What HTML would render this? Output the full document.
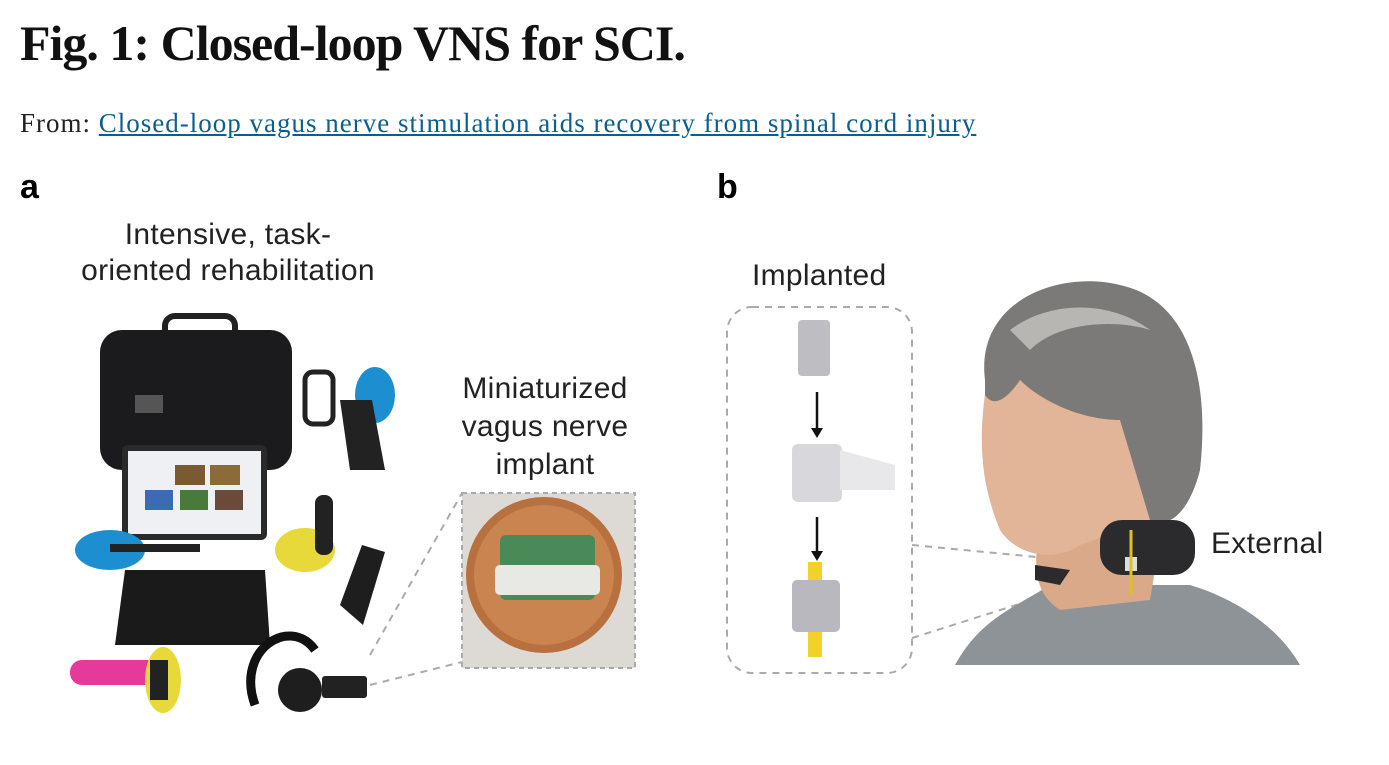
<!DOCTYPE html>
<html><head><meta charset="utf-8"><style>
body{margin:0;width:1389px;height:765px;background:#fff;position:relative;overflow:hidden;font-family:"Liberation Sans",sans-serif}
.t{position:absolute;white-space:nowrap}
.s{font-size:30px;letter-spacing:0.3px;color:#222}
</style></head><body>
<div class="t" style="left:20px;top:14px;font-family:'Liberation Serif',serif;font-weight:bold;font-size:50px;letter-spacing:-1px;color:#111">Fig. 1: Closed-loop VNS for SCI.</div>
<div class="t" style="left:20px;top:108px;font-family:'Liberation Serif',serif;font-size:27px;letter-spacing:1px;color:#222">From: <span style="color:#0b5f8f;text-decoration:underline">Closed-loop vagus nerve stimulation aids recovery from spinal cord injury</span></div>
<div class="t" style="left:20px;top:168px;font-weight:bold;font-size:34px">a</div>
<div class="t" style="left:717px;top:168px;font-weight:bold;font-size:34px">b</div>
<div class="t s" style="left:28px;top:217px;text-align:center;line-height:36px;width:400px">Intensive, task-<br>oriented rehabilitation</div>
<div class="t s" style="left:445px;top:370px;text-align:center;line-height:38px;width:200px">Miniaturized<br>vagus nerve<br>implant</div>
<div class="t s" style="left:752px;top:259px">Implanted</div>
<div class="t s" style="left:1211px;top:527px">External</div>
<svg width="1389" height="765" style="position:absolute;left:0;top:0">
<rect x="165" y="316" width="70" height="24" rx="10" fill="none" stroke="#222" stroke-width="6"/>
<rect x="100" y="330" width="192" height="140" rx="22" fill="#1b1b1d"/>
<rect x="135" y="395" width="28" height="18" fill="#555"/>
<rect x="122" y="445" width="145" height="95" rx="6" fill="#2a2a2a"/>
<rect x="128" y="451" width="133" height="83" fill="#eef0f4"/>
<rect x="175" y="465" width="30" height="20" fill="#7a5a30"/><rect x="210" y="465" width="30" height="20" fill="#8a6b3a"/>
<rect x="145" y="490" width="28" height="20" fill="#3b6bb0"/><rect x="180" y="490" width="28" height="20" fill="#4a7a3a"/><rect x="215" y="490" width="28" height="20" fill="#6a4a3a"/>
<path d="M125 570 L265 570 L270 645 L115 645 Z" fill="#1a1a1a"/>
<ellipse cx="110" cy="550" rx="35" ry="20" fill="#1d8fd0"/>
<rect x="110" y="544" width="90" height="8" fill="#222"/>
<ellipse cx="305" cy="550" rx="30" ry="22" fill="#e8d93a"/>
<rect x="315" y="495" width="18" height="60" rx="8" fill="#222"/>
<path d="M340 605 L362 545 L385 552 L363 625 Z" fill="#1e1e1e"/>
<rect x="305" y="372" width="28" height="52" rx="8" fill="none" stroke="#222" stroke-width="5"/>
<ellipse cx="375" cy="395" rx="20" ry="28" fill="#1d8fd0"/>
<path d="M340 400 L372 400 L385 470 L350 470 Z" fill="#222"/>
<rect x="70" y="660" width="90" height="25" rx="12" fill="#e53a9a"/>
<ellipse cx="163" cy="680" rx="18" ry="33" fill="#e8d93a"/>
<rect x="150" y="660" width="18" height="40" fill="#222"/>
<path d="M255 705 C235 650 290 615 315 650" fill="none" stroke="#111" stroke-width="9"/>
<circle cx="300" cy="690" r="22" fill="#1e1e1e"/>
<rect x="322" y="676" width="45" height="22" rx="3" fill="#222"/>
<path d="M370 685 L462 662 M370 655 L462 493" stroke="#aaa" stroke-width="2" stroke-dasharray="7,6" fill="none"/>
<rect x="462" y="493" width="173" height="175" fill="#ddd9d4" stroke="#aaa" stroke-width="2" stroke-dasharray="5,4"/>
<circle cx="544" cy="575" r="78" fill="#b8703f"/>
<circle cx="544" cy="575" r="70" fill="#c98450"/>
<rect x="500" y="535" width="95" height="65" rx="6" fill="#3c8b5a" opacity=".9"/>
<rect x="495" y="565" width="105" height="30" rx="5" fill="#e8e8e4"/>
<rect x="727" y="307" width="185" height="366" rx="25" fill="none" stroke="#aaa" stroke-width="2" stroke-dasharray="7,6"/>
<rect x="798" y="320" width="32" height="56" rx="4" fill="#bdbdc2"/>
<line x1="817" y1="392" x2="817" y2="430" stroke="#111" stroke-width="2.5"/><path d="M811 428 L817 438 L823 428Z" fill="#111"/>
<rect x="792" y="444" width="50" height="58" rx="6" fill="#d8d8dc"/>
<path d="M840 450 L895 465 L895 490 L840 490Z" fill="#e8e8ea"/>
<line x1="817" y1="517" x2="817" y2="553" stroke="#111" stroke-width="2.5"/><path d="M811 551 L817 561 L823 551Z" fill="#111"/>
<rect x="808" y="562" width="14" height="95" fill="#f2d22a"/>
<rect x="792" y="580" width="48" height="52" rx="5" fill="#b8b8be"/>
<path d="M912 545 L1120 565 M912 638 L1120 572" stroke="#aaa" stroke-width="2" stroke-dasharray="7,6" fill="none"/>
<path d="M955 665 C980 620 1010 610 1050 585 L1190 585 C1240 600 1280 630 1300 665 Z" fill="#8e9398"/>
<path d="M1040 520 C1035 560 1030 590 1060 610 L1150 600 L1160 540 Z" fill="#d9a98a"/>
<path d="M990 360 C980 420 975 470 1000 530 C1020 560 1060 560 1080 545 L1150 520 L1160 400 Z" fill="#e2b598"/>
<path d="M985 380 C975 300 1060 270 1120 285 C1190 300 1210 380 1200 470 C1190 510 1170 530 1150 520 L1120 420 C1080 420 1040 400 1020 380 C1010 395 995 410 985 395 Z" fill="#7c7a78"/>
<path d="M1010 330 C1050 300 1110 300 1150 330 C1120 320 1060 320 1030 350Z" fill="#b8b6b2"/>
<rect x="1100" y="520" width="95" height="55" rx="22" fill="#2b2b2d"/>
<path d="M1035 565 L1070 570 L1060 585 L1035 580Z" fill="#2b2b2d"/>
<rect x="1125" y="557" width="12" height="14" fill="#ddd"/>
<line x1="1131" y1="530" x2="1131" y2="595" stroke="#e0c020" stroke-width="3"/>
</svg>
</body></html>
